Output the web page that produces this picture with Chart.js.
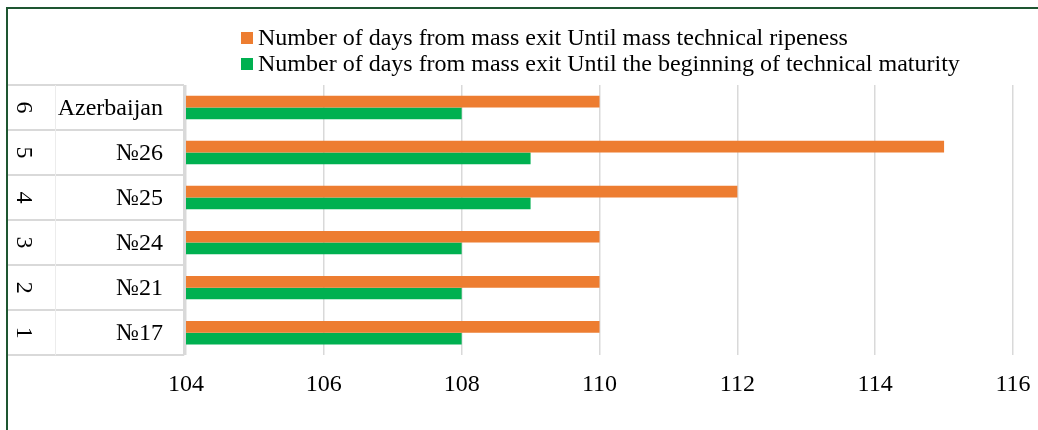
<!DOCTYPE html>
<html>
<head>
<meta charset="utf-8">
<script src="https://cdn.jsdelivr.net/npm/chart.js@4.4.0/dist/chart.umd.min.js"></script>
<style>
html, body { margin: 0; padding: 0; background: #fff; }
#caixa { position: relative; width: 1038px; height: 430px; }
</style>
</head>
<body>
<div id="caixa"><canvas id="graficoDias"></canvas></div>
<script>
// dados (de cima para baixo)
var variedades = ["Azerbaijan", "№26", "№25", "№24", "№21", "№17"];
var numeros = ["6", "5", "4", "3", "2", "1"];
var diasMaturacaoMassa = [110, 115, 112, 110, 110, 110];
var diasInicioMaturacao = [108, 109, 109, 108, 108, 108];
var ticksX = [104, 106, 108, 110, 112, 114, 116];

var legendas = [
    "Number of days from mass exit Until mass technical ripeness",
    "Number of days from mass exit Until the beginning of technical maturity"
];

var fonteSerif = "'Liberation Serif', 'Times New Roman', serif";

// desenha a moldura, a legenda e a tabela de categorias da esquerda
var tabelaPlugin = {
    id: "tabela",
    afterDraw: function (chart) {
        var ctx = chart.ctx;
        var area = chart.chartArea;
        var n = variedades.length;
        var h = (area.bottom - area.top) / n;

        ctx.save();

        // linhas da tabela
        ctx.strokeStyle = "#d9d9d9";
        ctx.lineWidth = 2;
        ctx.beginPath();
        for (var k = 0; k <= n; k++) {
            var yy = Math.round(area.top + k * h);
            ctx.moveTo(8, yy);
            ctx.lineTo(184, yy);
        }
        ctx.moveTo(184, area.top);
        ctx.lineTo(184, area.bottom);
        ctx.stroke();
        ctx.strokeStyle = "#ececec";
        ctx.lineWidth = 1;
        ctx.beginPath();
        ctx.moveTo(55.5, area.top);
        ctx.lineTo(55.5, area.bottom);
        ctx.stroke();

        // textos das categorias
        ctx.fillStyle = "#000";
        ctx.font = "24px " + fonteSerif;
        ctx.textBaseline = "middle";
        var escala = chart.scales.y;
        variedades.forEach(function (v, i) {
            var yc = escala.getPixelForValue(i);
            ctx.textAlign = "right";
            ctx.fillText(v, 163, yc + 1);
            ctx.save();
            ctx.translate(24, yc);
            ctx.rotate(Math.PI / 2);
            ctx.textAlign = "center";
            ctx.fillText(numeros[i], 0, 1);
            ctx.restore();
        });

        // legenda
        var cores = chart.data.datasets.map(function (d) { return d.backgroundColor; });
        var ys = [38, 64];
        ctx.textAlign = "left";
        legendas.forEach(function (txt, i) {
            ctx.fillStyle = cores[i];
            ctx.fillRect(241, ys[i] - 6, 12, 12);
            ctx.fillStyle = "#000";
            ctx.fillText(txt, 258, ys[i] + 1);
        });

        // moldura verde
        ctx.strokeStyle = "#1e5631";
        ctx.lineWidth = 2;
        ctx.beginPath();
        ctx.moveTo(7, 430);
        ctx.lineTo(7, 8);
        ctx.lineTo(1038, 8);
        ctx.stroke();

        ctx.restore();
    }
};

document.addEventListener("DOMContentLoaded", function () {
    var ctx = document.getElementById("graficoDias");

    new Chart(ctx, {
        type: "bar",
        data: {
            labels: variedades,
            datasets: [
                {
                    label: legendas[0],
                    data: diasMaturacaoMassa,
                    backgroundColor: "#ED7D31",
                    categoryPercentage: 0.52,
                    barPercentage: 1
                },
                {
                    label: legendas[1],
                    data: diasInicioMaturacao,
                    backgroundColor: "#00B050",
                    categoryPercentage: 0.52,
                    barPercentage: 1
                }
            ]
        },
        options: {
            indexAxis: "y",
            responsive: true,
            maintainAspectRatio: false,
            animation: false,
            layout: {
                padding: { left: 186, right: 25, top: 85, bottom: 16 }
            },
            plugins: {
                legend: { display: false },
                tooltip: { enabled: false }
            },
            scales: {
                x: {
                    min: 104,
                    max: 116,
                    afterBuildTicks: function (scale) {
                        scale.ticks = ticksX.map(function (v) { return { value: v }; });
                    },
                    // o padding do layout ja deixa espaco para os rotulos
                    afterFit: function (scale) {
                        scale.paddingLeft = 0;
                        scale.paddingRight = 0;
                    },
                    grid: { color: "#d9d9d9", lineWidth: 1.5, drawTicks: false },
                    border: { display: false },
                    ticks: {
                        color: "#000",
                        padding: 15,
                        maxRotation: 0,
                        font: { family: fonteSerif, size: 24 }
                    }
                },
                y: {
                    display: false,
                    grid: { display: false }
                }
            }
        },
        plugins: [tabelaPlugin]
    });
});
</script>
</body>
</html>
